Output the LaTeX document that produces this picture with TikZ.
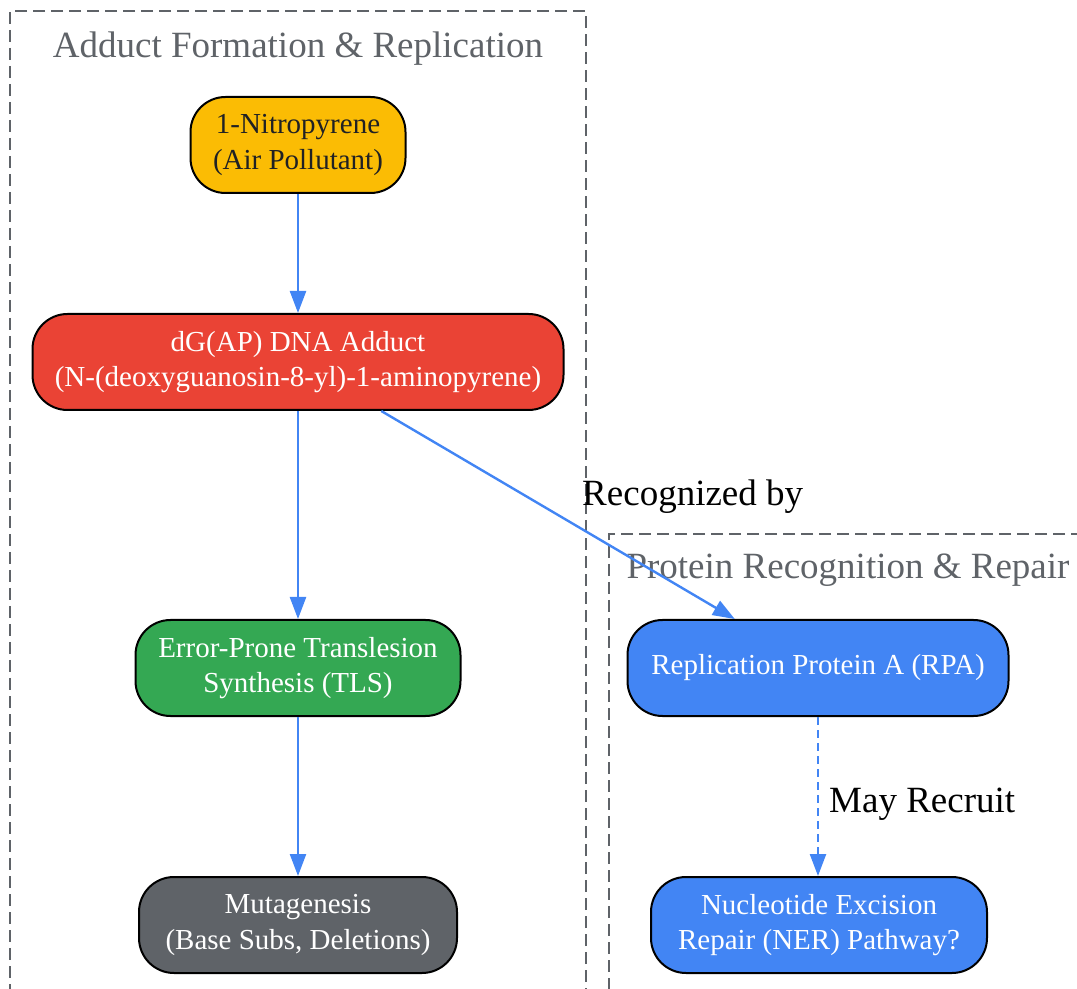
\documentclass[tikz,border=0pt]{standalone}
\usepackage{fontspec}
\setmainfont{Liberation Serif}
\usetikzlibrary{shapes.geometric, arrows.meta, positioning, fit, calc}

\definecolor{nitroyellow}{HTML}{FBBC04}
\definecolor{adductred}{HTML}{EA4335}
\definecolor{tlsgreen}{HTML}{34A853}
\definecolor{mutgrey}{HTML}{5F6368}
\definecolor{repairblue}{HTML}{4285F4}
\definecolor{darktext}{HTML}{202124}

\begin{document}
\begin{tikzpicture}[x=0.5pt, y=-0.5pt,
            % Define node styles
            stage/.style={rectangle, draw=black, line width=1pt, rounded corners=17.5pt, minimum height=48pt, inner sep=0pt, align=center, text=white, font=\fontsize{14.5}{17.75}\selectfont},
            pollutant/.style={stage, fill=nitroyellow, text=darktext},
            adduct/.style={stage, fill=adductred},
            synthesis/.style={stage, fill=tlsgreen},
            outcome/.style={stage, fill=mutgrey},
            protein/.style={stage, fill=repairblue},
            arrow/.style={line width=1.2pt, draw=repairblue, -{Triangle[length=11pt, width=8pt]}},
            maybe/.style={arrow, dash pattern=on 4pt off 2.5pt},
            edgelabel/.style={font=\fontsize{18.5}{22}\selectfont, text=black, inner sep=0pt},
            box/.style={rectangle, draw=mutgrey, line width=1.3pt, dash pattern=on 6pt off 3pt, inner sep=0pt},
            boxlabel/.style={font=\fontsize{18.5}{22}\selectfont, text=mutgrey, inner sep=0pt, anchor=base}
        ]

        \useasboundingbox (0,0) rectangle (1077,989);

        % Adduct formation part
        \coordinate (adf_top_left) at (10,11);
        \coordinate (adf_bottom_right) at (586,1000);
        \node[box, fit={(adf_top_left) (adf_bottom_right)}] (adf) {};
        \node[boxlabel] (adflabel) at (298,58) {Adduct Formation \& Replication};

        \node[pollutant, minimum width=107.5pt] (nitro) at (298,145) {1-Nitropyrene\\(Air Pollutant)};
        \node[adduct, minimum width=265.5pt] (dgap) at (298,362) {dG(AP) DNA Adduct\\(N-(deoxyguanosin-8-yl)-1-aminopyrene)};
        \node[synthesis, minimum width=162.5pt] (tls) at (298,668) {Error-Prone Translesion\\Synthesis (TLS)};
        \node[outcome, minimum width=159pt] (mut) at (298,925) {Mutagenesis\\(Base Subs, Deletions)};

        % Protein recognition part
        \coordinate (rec_top_left) at (609,534);
        \coordinate (rec_bottom_right) at (1090,1000);
        \node[box, fit={(rec_top_left) (rec_bottom_right)}] (rec) {};
        \node[boxlabel] (reclabel) at (848,579) {Protein Recognition \& Repair};

        \node[protein, minimum width=190.5pt] (rpa) at (818,668) {Replication Protein A (RPA)};
        \node[protein, minimum width=168pt] (ner) at (819,925) {Nucleotide Excision\\Repair (NER) Pathway?};

        % Connect components
        \draw[arrow] (nitro) -- (dgap);
        \draw[arrow] (dgap) -- (tls);
        \draw[arrow] (tls) -- (mut);
        \draw[arrow] (dgap) -- node[edgelabel, pos=0.565, anchor=south west, yshift=7pt] {Recognized by} (rpa);
        \draw[maybe] (rpa) -- node[edgelabel, right, xshift=5pt, yshift=-4pt] {May Recruit} (rpa |- ner.north);

        \end{tikzpicture}
\end{document}
